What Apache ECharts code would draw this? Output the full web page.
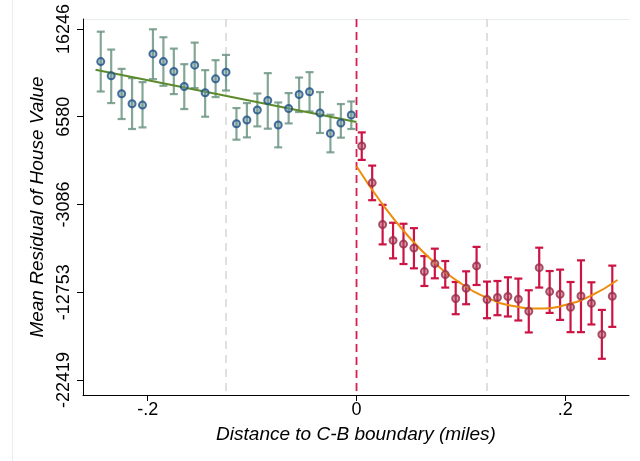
<!DOCTYPE html>
<html><head><meta charset="utf-8">
<script src="https://cdn.jsdelivr.net/npm/echarts@6/dist/echarts.min.js"></script>
<style>html,body{margin:0;padding:0;background:#fff}#c{width:640px;height:461px}</style>
</head><body><div id="c"></div>
<script>
// ---- data ----
const leftX = [-0.245,-0.235,-0.225,-0.215,-0.205,-0.195,-0.185,-0.175,-0.165,-0.155,-0.145,-0.135,-0.125,-0.115,-0.105,-0.095,-0.085,-0.075,-0.065,-0.055,-0.045,-0.035,-0.025,-0.015,-0.005];
const leftMean = [12654,11084,9106,8008,7865,13500,12654,11556,9908,12259,9216,10754,11490,5811,6218,7316,8371,5668,7492,9030,9326,6986,4746,5888,6767];
const leftLow  = [9359,8085,6327,5229,5405,10721,9985,9074,7426,9733,6580,8744,9469,4054,4306,5515,5262,3208,5844,7096,7162,4790,2659,4274,5229];
const leftHigh = [15949,13976,11852,10831,10392,16213,15334,14082,12369,14741,11710,12808,13390,7536,8085,9139,11380,8151,9183,10897,11490,9293,6800,7975,8261];

const rightX = [0.005,0.015,0.025,0.035,0.045,0.055,0.065,0.075,0.085,0.095,0.105,0.115,0.125,0.135,0.145,0.155,0.165,0.175,0.185,0.195,0.205,0.215,0.225,0.235,0.245];
const rightMean = [3362,-702,-5283,-7040,-7446,-7886,-10478,-9600,-10808,-13444,-12313,-9853,-13554,-13334,-13224,-13521,-14839,-10039,-12675,-12972,-14400,-13158,-13960,-17398,-13191];
const rightLow  = [1824,-2614,-7479,-9017,-9643,-10116,-12060,-11214,-12236,-15168,-14070,-11950,-15608,-15278,-15421,-15860,-17178,-12236,-15025,-15794,-17145,-17145,-16299,-20078,-16563];
const rightHigh = [4856,1198,-3119,-5096,-5206,-5690,-8767,-7951,-9314,-11621,-10446,-7754,-11577,-11511,-11104,-11247,-12533,-7842,-10413,-10259,-11621,-9237,-11654,-14696,-9819];

const fitLeftX = [-0.25, 0];
const fitLeftY = [11750, 6000];
const fitRightX = [0,0.025,0.05,0.075,0.1,0.125,0.15,0.175,0.2,0.225,0.25];
const fitRightY = [1124,-3083,-6634,-9529,-11767,-13348,-14272,-14540,-14151,-13106,-11404];

const yTicks = [-22419,-12753,-3086,6580,16246];
const xTicks = [-0.2,0,0.2];
const xTickLabels = ['-.2','0','.2'];
const cutoffLine = [0];
const bandLines = [-0.125, 0.125];

const FONT = '"Liberation Sans", Arial, sans-serif';

function zip3(a,b,c){ return a.map((v,i)=>[v,b[i],c[i]]); }
function zip2(a,b){ return a.map((v,i)=>[v,b[i]]); }

function errRender(color){
  return function(params, api){
    const x = api.value(0), lo = api.value(1), hi = api.value(2);
    const p1 = api.coord([x, lo]), p2 = api.coord([x, hi]);
    const hw = 4;
    const st = {stroke: color, lineWidth: 2.2};
    return {type:'group', children:[
      {type:'line', shape:{x1:p1[0],y1:p1[1],x2:p2[0],y2:p2[1]}, style:st},
      {type:'line', shape:{x1:p1[0]-hw,y1:p1[1],x2:p1[0]+hw,y2:p1[1]}, style:st},
      {type:'line', shape:{x1:p2[0]-hw,y1:p2[1],x2:p2[0]+hw,y2:p2[1]}, style:st}
    ]};
  };
}
function vlineRender(color, width, dash){
  return function(params, api){
    const x = api.coord([api.value(0), 0])[0];
    const cs = params.coordSys;
    return {type:'line', shape:{x1:x, y1:cs.y, x2:x, y2:cs.y+cs.height},
      style:{stroke:color, lineWidth:width, lineDash:dash}};
  };
}

const chart = echarts.init(document.getElementById('c'), null, {renderer:'canvas'});
chart.setOption({
  animation:false,
  backgroundColor:'#fff',
  grid:{left:83, right:11, top:19, bottom:66, containLabel:false},
  xAxis:{
    type:'value', min:-0.262, max:0.261,
    axisLine:{show:true, onZero:false, lineStyle:{color:'#000', width:1}},
    axisTick:{show:true, length:6, customValues:xTicks, lineStyle:{color:'#000'}},
    axisLabel:{show:true, customValues:xTicks, margin:6, fontSize:18, color:'#000', fontFamily:FONT,
      formatter:function(v){ const i = xTicks.findIndex(t=>Math.abs(t-v)<1e-9); return i>=0?xTickLabels[i]:''; }},
    splitLine:{show:false},
    name:'Distance to C-B boundary (miles)', nameLocation:'middle', nameGap:30,
    nameTextStyle:{fontSize:19, fontStyle:'italic', color:'#000', fontFamily:FONT}
  },
  yAxis:{
    type:'value', min:-24067, max:17344,
    axisLine:{show:true, onZero:false, lineStyle:{color:'#000', width:1}},
    axisTick:{show:true, length:6, customValues:yTicks, lineStyle:{color:'#000'}},
    axisLabel:{show:true, customValues:yTicks, rotate:90, margin:10, fontSize:18, color:'#000', fontFamily:FONT,
      formatter:function(v){ return String(v); }},
    splitLine:{show:false},
    name:'Mean Residual of House Value', nameLocation:'middle', nameGap:36, nameRotate:90,
    nameTextStyle:{fontSize:19, fontStyle:'italic', color:'#000', fontFamily:FONT}
  },
  graphic:[
    {type:'line', shape:{x1:12.5,y1:0,x2:12.5,y2:461}, style:{stroke:'#e8eef0', lineWidth:1}, silent:true},
    {type:'line', shape:{x1:83,y1:19.5,x2:629,y2:19.5}, style:{stroke:'#e8eef0', lineWidth:1}, silent:true}
  ],
  series:[
    {type:'custom', renderItem:vlineRender('#d6d6d6', 1.5, [8,6]), data:bandLines.map(v=>[v]), z:1, silent:true},
    {type:'custom', renderItem:vlineRender('#d81e4e', 1.8, [8,5]), data:cutoffLine.map(v=>[v]), z:1, silent:true},
    {type:'custom', renderItem:errRender('rgba(110,150,132,0.85)'), data:zip3(leftX,leftLow,leftHigh), z:3, silent:true},
    {type:'custom', renderItem:errRender('#cc1444'), data:zip3(rightX,rightLow,rightHigh), z:3, silent:true},
    {type:'line', data:zip2(fitLeftX,fitLeftY), showSymbol:false, lineStyle:{color:'#5c8a2c', width:2}, z:4, silent:true},
    {type:'line', data:zip2(fitRightX,fitRightY), smooth:true, showSymbol:false, lineStyle:{color:'#ee8c0e', width:2}, z:4, silent:true},
    {type:'scatter', data:zip2(leftX,leftMean), symbol:'circle', symbolSize:7,
      itemStyle:{color:'rgba(110,150,150,0.6)', borderColor:'#1d5088', borderWidth:2}, z:5, silent:true},
    {type:'scatter', data:zip2(rightX,rightMean), symbol:'circle', symbolSize:7,
      itemStyle:{color:'rgba(170,80,100,0.6)', borderColor:'#982a48', borderWidth:2}, z:5, silent:true}
  ]
});
</script>
</body></html>
